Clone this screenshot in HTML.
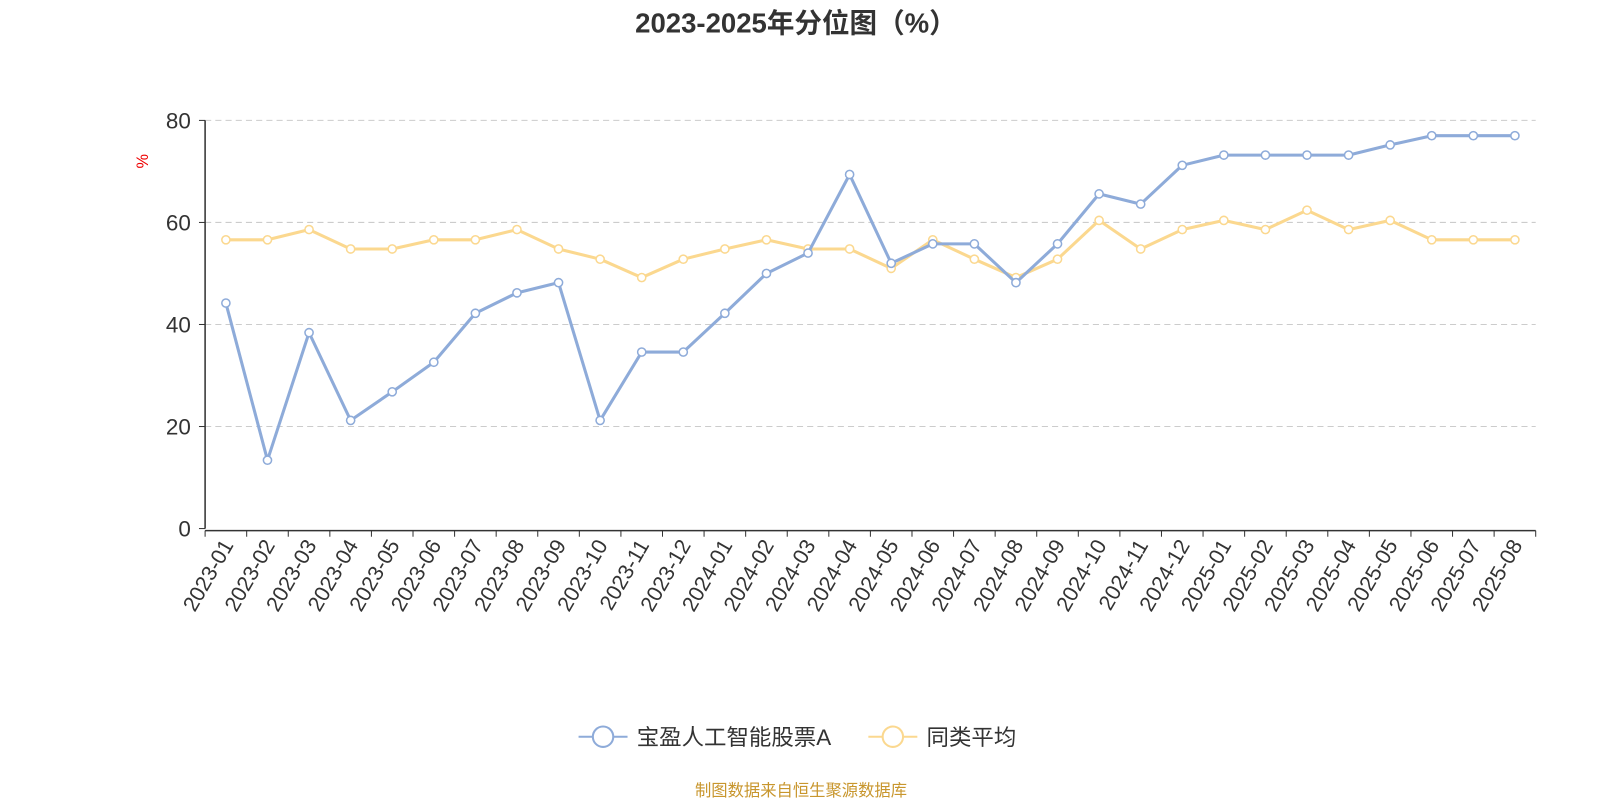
<!DOCTYPE html>
<html><head><meta charset="utf-8">
<style>
html,body{margin:0;padding:0;background:#fff;width:1600px;height:800px;overflow:hidden;}
svg{display:block;font-family:"Liberation Sans","Noto Sans CJK SC",sans-serif;}
</style></head>
<body>
<svg id="chart" width="1600" height="800" xmlns="http://www.w3.org/2000/svg">
<g transform="scale(1.0204)">
<text x="780" y="32" text-anchor="middle" font-size="27" font-weight="bold" fill="#333">2023-2025年分位图（%）</text>
<text x="145" y="158" transform="rotate(-90 145 158)" text-anchor="middle" font-size="16" fill="#e00">%</text>
<g id="grid"></g><g id="axes"></g><g id="series"></g>
<g>
<g>
<line x1="567" y1="722" x2="615" y2="722" stroke="#8eabd9" stroke-width="2"/>
<circle cx="591" cy="722" r="10" fill="#fff" stroke="#8eabd9" stroke-width="2"/>
<text x="624" y="730" font-size="22" fill="#333">宝盈人工智能股票A</text></g>
<g>
<line x1="851" y1="722" x2="899" y2="722" stroke="#fbd88f" stroke-width="2"/>
<circle cx="875" cy="722" r="10" fill="#fff" stroke="#fbd88f" stroke-width="2"/>
<text x="908" y="730" font-size="22" fill="#333">同类平均</text></g>
</g>
<text x="785" y="780" text-anchor="middle" font-size="16" fill="#c8962d">制图数据来自恒生聚源数据库</text>
</g>
</svg>
<script>
const categories=["2023-01","2023-02","2023-03","2023-04","2023-05","2023-06","2023-07","2023-08","2023-09","2023-10","2023-11","2023-12","2024-01","2024-02","2024-03","2024-04","2024-05","2024-06","2024-07","2024-08","2024-09","2024-10","2024-11","2024-12","2025-01","2025-02","2025-03","2025-04","2025-05","2025-06","2025-07","2025-08"];
const fundValues=[44.2,13.4,38.4,21.2,26.8,32.6,42.2,46.2,48.2,21.2,34.6,34.6,42.2,50,54,69.4,52,55.8,55.8,48.2,55.8,65.6,63.6,71.2,73.2,73.2,73.2,73.2,75.2,77,77,77];
const peerValues=[56.6,56.6,58.6,54.8,54.8,56.6,56.6,58.6,54.8,52.8,49.2,52.8,54.8,56.6,54.8,54.8,51,56.6,52.8,49.2,52.8,60.4,54.8,58.6,60.4,58.6,62.4,58.6,60.4,56.6,56.6,56.6];
const yTicks=[0,20,40,60,80];
const NS="http://www.w3.org/2000/svg";
const X0=201,X1=1505,Y0=518,Y1=118,YMAX=80;
const band=(X1-X0)/categories.length;
const xPos=i=>X0+band*(i+0.5);
const yPos=v=>Y0-(v/YMAX)*(Y0-Y1);
function mk(tag,attrs,parent){const e=document.createElementNS(NS,tag);for(const k in attrs)e.setAttribute(k,attrs[k]);parent.appendChild(e);return e;}
const grid=document.getElementById('grid'),axes=document.getElementById('axes'),series=document.getElementById('series');
yTicks.forEach(t=>{
  if(t>0){const g=mk('line',{x1:X0,x2:X1,y1:yPos(t),y2:yPos(t),stroke:'#ccc','stroke-dasharray':'6,4'},grid);
  
  }
  const tk=mk('line',{x1:X0-6,x2:X0,y1:yPos(t),y2:yPos(t),stroke:'#333'},axes);
  
  
  const l=mk('text',{x:X0-14,y:yPos(t)+8,'text-anchor':'end','font-size':22,fill:'#333'},axes);
  l.textContent=t;
  
  
});
const ya=mk('line',{x1:X0,x2:X0,y1:Y1,y2:Y0,stroke:'#333','stroke-width':1.5},axes);


const xa=mk('line',{x1:X0,x2:X1,y1:Y0+2,y2:Y0+2,stroke:'#333','stroke-width':1.5},axes);


for(let i=0;i<=categories.length;i++){
  const x=X0+band*i;
  const tk=mk('line',{x1:x,x2:x,y1:Y0+2,y2:Y0+8,stroke:'#333'},axes);
  
  
}
categories.forEach((c,i)=>{
  const x=xPos(i)+8,y=Y0+16;
  const l=mk('text',{x:x,y:y,'text-anchor':'end','font-size':21,fill:'#333',transform:`rotate(-60 ${x} ${y})`},axes);
  l.textContent=c;
  
  
});
function drawSeries(vals,color,name){
  const g=mk('g',{},series);
  
  
  const p=mk('polyline',{points:vals.map((v,i)=>xPos(i)+','+yPos(v)).join(' '),fill:'none',stroke:color,'stroke-width':3,'stroke-linejoin':'round'},g);
  
  
  vals.forEach((v,i)=>{
    const c=mk('circle',{cx:xPos(i),cy:yPos(v),r:4,fill:'#fff',stroke:color,'stroke-width':1.5},g);
    
    
  });
}
drawSeries(peerValues,'#fbd88f','peer-average');
drawSeries(fundValues,'#8eabd9','fund');
</script>
</body></html>
